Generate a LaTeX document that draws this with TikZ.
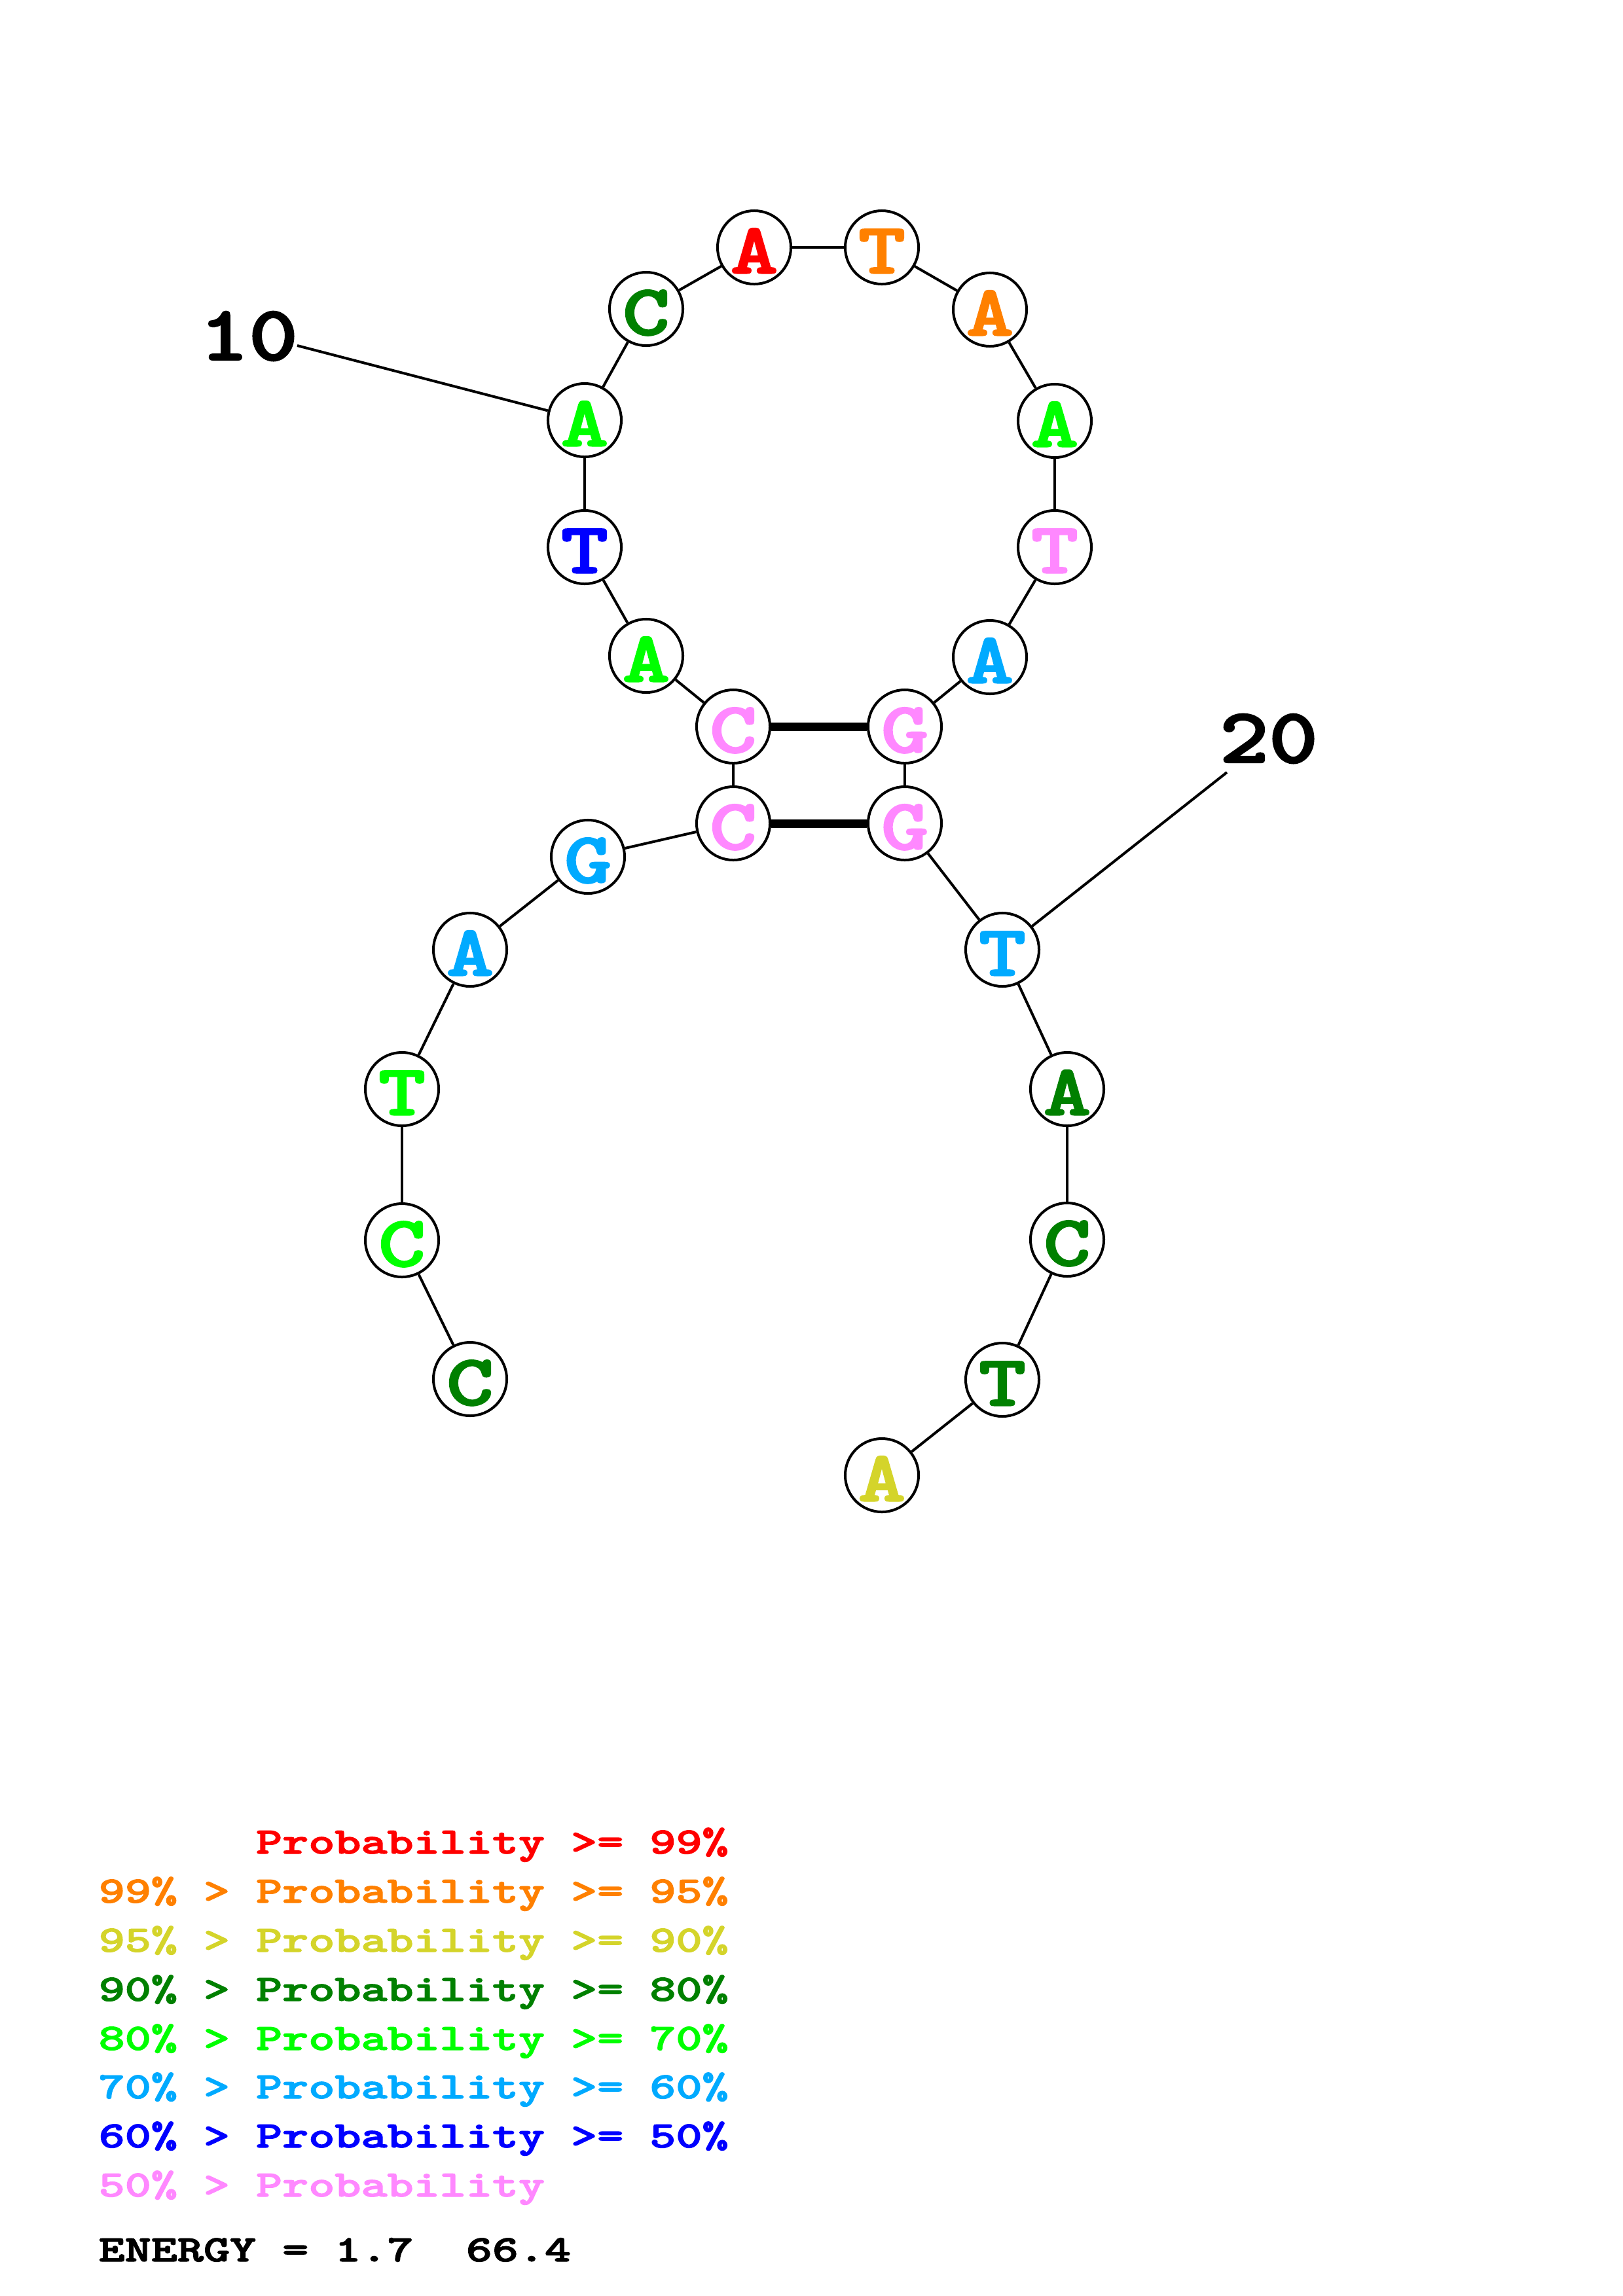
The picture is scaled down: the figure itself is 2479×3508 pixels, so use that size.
\documentclass[tikz,border=0pt]{standalone}
\usepackage{graphicx}
\usepackage{fontspec}
\newfontfamily\courb{lmmonolt10-bold.otf}[FakeBold=2]
\definecolor{cred}{RGB}{255,0,0}
\definecolor{corange}{RGB}{255,128,0}
\definecolor{cyellow}{RGB}{212,212,42}
\definecolor{cdgreen}{RGB}{0,128,0}
\definecolor{clgreen}{RGB}{0,255,0}
\definecolor{csky}{RGB}{0,170,255}
\definecolor{cblue}{RGB}{0,0,255}
\definecolor{cpink}{RGB}{255,136,255}
\newcommand{\ntfont}{\fontsize{31.3pt}{31.3pt}\courb\selectfont}
\newcommand{\lblfont}{\fontsize{33.9pt}{33.9pt}\courb\selectfont}
\newcommand{\legfont}{\fontsize{16.2pt}{16.2pt}\courb\selectfont}
\newcommand{\ntx}[1]{\scalebox{1.25}[1]{#1}}
\newcommand{\lbx}[1]{\scalebox{1.2}[1]{#1}}
\newcommand{\lgx}[1]{\scalebox{1.34}[1]{#1}}
\tikzset{
  nt/.style={circle, draw=black, line width=1.14pt, fill=white,
    minimum size=1.12cm, inner sep=0pt, text height=0.79cm, text depth=0pt,
    font=\ntfont},
  bb/.style={line width=1.14pt},
  bpair/.style={line width=3.7pt},
  lbl/.style={anchor=base, inner sep=0pt, font=\lblfont},
  leg/.style={anchor=base west, inner sep=0pt, font=\legfont},
}
\begin{document}
\begin{tikzpicture}[x=0.01cm,y=-0.01cm]
\useasboundingbox[fill=white] (0,0) rectangle (2479,3508);
\coordinate (l10) at (454,528);
\coordinate (l20) at (1874,1180);
% nucleotides
\node[nt,text=cdgreen] (n1)  at (718,2107) {\ntx{C}};
\node[nt,text=clgreen] (n2)  at (614,1895) {\ntx{C}};
\node[nt,text=clgreen] (n3)  at (614,1664) {\ntx{T}};
\node[nt,text=csky]    (n4)  at (718,1451) {\ntx{A}};
\node[nt,text=csky]    (n5)  at (898,1309) {\ntx{G}};
\node[nt,text=cpink]   (n6)  at (1120,1258) {\ntx{C}};
\node[nt,text=cpink]   (n7)  at (1120,1110) {\ntx{C}};
\node[nt,text=clgreen] (n8)  at (987,1002) {\ntx{A}};
\node[nt,text=cblue]   (n9)  at (893,836) {\ntx{T}};
\node[nt,text=clgreen] (n10) at (893,642) {\ntx{A}};
\node[nt,text=cdgreen] (n11) at (987,472) {\ntx{C}};
\node[nt,text=cred]    (n12) at (1152,378) {\ntx{A}};
\node[nt,text=corange] (n13) at (1347,378) {\ntx{T}};
\node[nt,text=corange] (n14) at (1512,473) {\ntx{A}};
\node[nt,text=clgreen] (n15) at (1611,643) {\ntx{A}};
\node[nt,text=cpink]   (n16) at (1611,836) {\ntx{T}};
\node[nt,text=csky]    (n17) at (1512,1004) {\ntx{A}};
\node[nt,text=cpink]   (n18) at (1382,1110) {\ntx{G}};
\node[nt,text=cpink]   (n19) at (1382,1258) {\ntx{G}};
\node[nt,text=csky]    (n20) at (1531,1451) {\ntx{T}};
\node[nt,text=cdgreen] (n21) at (1630,1664) {\ntx{A}};
\node[nt,text=cdgreen] (n22) at (1630,1894) {\ntx{C}};
\node[nt,text=cdgreen] (n23) at (1531,2108) {\ntx{T}};
\node[nt,text=cyellow] (n24) at (1347,2254) {\ntx{A}};
% backbone
\foreach \a/\b in {1/2,2/3,3/4,4/5,5/6,6/7,7/8,8/9,9/10,10/11,11/12,12/13,13/14,14/15,15/16,16/17,17/18,18/19,19/20,20/21,21/22,22/23,23/24}
  \draw[bb] (n\a) -- (n\b);
% base pairs
\draw[bpair] (n7) -- (n18);
\draw[bpair] (n6) -- (n19);
% position labels
\node[lbl] (t10) at (380,550) {\lbx{10}};
\node[lbl] (t20) at (1938,1165) {\lbx{20}};
\draw[bb] (l10) -- (n10);
\draw[bb] (l20) -- (n20);
% legend
\node[leg,text=cred]    (g1) at (150,2832) {\lgx{\hphantom{000000}Probability >= 99\%}};
\node[leg,text=corange] (g2) at (150,2907) {\lgx{99\% > Probability >= 95\%}};
\node[leg,text=cyellow] (g3) at (150,2982) {\lgx{95\% > Probability >= 90\%}};
\node[leg,text=cdgreen] (g4) at (150,3057) {\lgx{90\% > Probability >= 80\%}};
\node[leg,text=clgreen] (g5) at (150,3132) {\lgx{80\% > Probability >= 70\%}};
\node[leg,text=csky]    (g6) at (150,3206) {\lgx{70\% > Probability >= 60\%}};
\node[leg,text=cblue]   (g7) at (150,3281) {\lgx{60\% > Probability >= 50\%}};
\node[leg,text=cpink]   (g8) at (150,3356) {\lgx{50\% > Probability}};
\node[leg,text=black]   (en) at (150,3455) {\lgx{ENERGY = 1.7\ \ 66.4}};
\end{tikzpicture}
\end{document}
